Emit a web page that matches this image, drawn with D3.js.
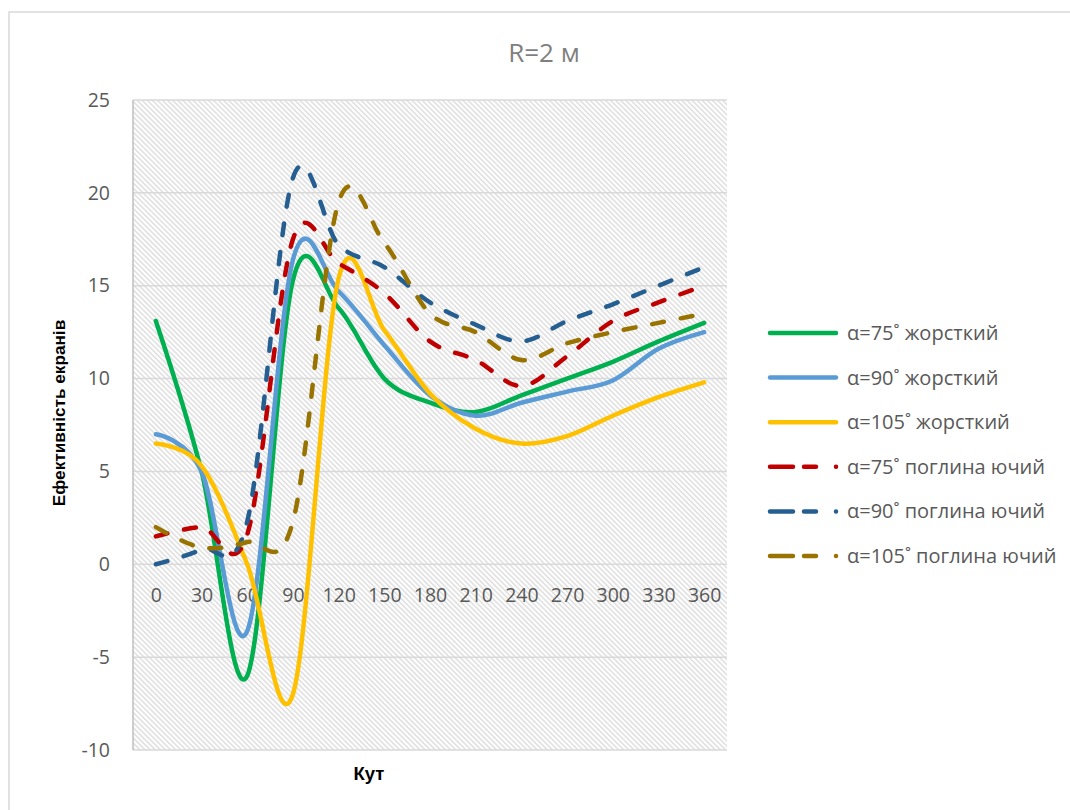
<!DOCTYPE html>
<html>
<head>
<meta charset="utf-8">
<script src="https://cdn.jsdelivr.net/npm/d3@7"></script>
<style>
  body { margin: 0; background: #fff; }
  svg { display: block; }
</style>
</head>
<body>
<svg id="chart" width="1070" height="810"></svg>
<script>
// Angle categories along the x axis
const angleLabels = ["0", "30", "60", "90", "120", "150", "180", "210", "240", "270", "300", "330", "360"];
const yTicks = [-10, -5, 0, 5, 10, 15, 20, 25];

// Screen efficiency per angle, rigid screens
const rigid75  = [13.1, 5.0, -6.0, 15.3, 13.8, 10.0, 8.7, 8.2, 9.1, 10.0, 10.9, 12.0, 13.0];
const rigid90  = [7.0, 5.0, -3.6, 16.4, 14.7, 11.8, 9.1, 8.0, 8.7, 9.3, 9.9, 11.6, 12.5];
const rigid105 = [6.5, 5.3, 0.0, -7.0, 15.4, 12.6, 9.2, 7.3, 6.5, 6.9, 8.0, 9.0, 9.8];
// Screen efficiency per angle, absorbing screens
const absorb75  = [1.5, 2.0, 1.6, 17.5, 16.2, 14.6, 12.0, 11.0, 9.6, 11.2, 13.1, 14.1, 15.0];
const absorb90  = [0.0, 0.8, 2.3, 20.8, 17.2, 16.0, 14.1, 12.9, 12.0, 13.1, 14.0, 15.0, 16.0];
const absorb105 = [2.0, 0.9, 1.2, 2.3, 19.5, 17.3, 13.5, 12.5, 11.0, 11.9, 12.5, 13.0, 13.5];

const seriesNames = [
  "α=75˚ жорсткий", "α=90˚ жорсткий", "α=105˚ жорсткий",
  "α=75˚ поглина ючий", "α=90˚ поглина ючий", "α=105˚ поглина ючий"
];
const seriesValues = [rigid75, rigid90, rigid105, absorb75, absorb90, absorb105];
const seriesColors = ["#00B050", "#5B9BD5", "#FFC000", "#C00000", "#255E91", "#997300"];
const seriesDashed = [false, false, false, true, true, true];

const series = seriesNames.map((name, i) => ({
  name, values: seriesValues[i], color: seriesColors[i], dashed: seriesDashed[i]
}));

const svg = d3.select("#chart");
const plot = { left: 133, right: 727, top: 100, bottom: 750 };
const textGrey = "#595959";
const tickFont = "'Open Sans', 'Noto Sans', sans-serif";

// Chart frame
svg.append("rect")
  .attr("x", 9).attr("y", 12).attr("width", 1100).attr("height", 850)
  .attr("fill", "#fff").attr("stroke", "#d9d9d9").attr("stroke-width", 1.5);

// Diagonal hatch for the plot area
const defs = svg.append("defs");
const pat = defs.append("pattern")
  .attr("id", "hatch").attr("patternUnits", "userSpaceOnUse")
  .attr("width", 3.6).attr("height", 3.6)
  .attr("patternTransform", "rotate(-45)");
pat.append("rect").attr("width", 3.6).attr("height", 3.6).attr("fill", "#ffffff");
pat.append("rect").attr("width", 1.5).attr("height", 3.6).attr("fill", "#dedede");

const x = d3.scalePoint().domain(angleLabels).range([plot.left, plot.right]).padding(0.5);
const y = d3.scaleLinear().domain([-10, 25]).range([plot.bottom, plot.top]);

svg.append("rect")
  .attr("x", plot.left).attr("y", plot.top)
  .attr("width", plot.right - plot.left).attr("height", plot.bottom - plot.top)
  .attr("fill", "url(#hatch)");

// Horizontal gridlines
svg.append("g").selectAll("line").data(yTicks).join("line")
  .attr("x1", plot.left).attr("x2", plot.right)
  .attr("y1", d => y(d)).attr("y2", d => y(d))
  .attr("stroke", "#d9d9d9").attr("stroke-width", 1.5);

// Left axis line
svg.append("line")
  .attr("x1", plot.left).attr("x2", plot.left)
  .attr("y1", plot.top).attr("y2", plot.bottom)
  .attr("stroke", "#bfbfbf").attr("stroke-width", 1.5);

// Y axis labels (plain hyphen for negatives)
const yAxis = svg.append("g")
  .attr("transform", `translate(${plot.left},0)`)
  .call(d3.axisLeft(y).tickValues(yTicks).tickFormat(d => String(d)).tickSize(0).tickPadding(23));
yAxis.select(".domain").remove();
yAxis.selectAll("text")
  .attr("fill", textGrey).style("font-family", tickFont).style("font-size", "19.5px");

// X axis labels sit just under the zero line
const xAxis = svg.append("g")
  .attr("transform", `translate(0,${y(0)})`)
  .call(d3.axisBottom(x).tickSize(0).tickPadding(24));
xAxis.select(".domain").remove();
xAxis.selectAll("text")
  .attr("fill", textGrey).style("font-family", tickFont).style("font-size", "19.5px");

// Series curves
const line = d3.line()
  .x((d, i) => x(angleLabels[i]))
  .y(d => y(d))
  .curve(d3.curveCardinal.tension(0));

svg.append("g").selectAll("path").data(series).join("path")
  .attr("d", d => line(d.values))
  .attr("fill", "none")
  .attr("stroke", d => d.color)
  .attr("stroke-width", 4.5)
  .attr("stroke-linecap", "round")
  .attr("stroke-linejoin", "round")
  .attr("stroke-dasharray", d => d.dashed ? "12 17" : null);

// Title
svg.append("text")
  .attr("x", 544).attr("y", 62)
  .attr("text-anchor", "middle")
  .attr("fill", "#7f7f7f")
  .style("font-family", tickFont).style("font-size", "26px")
  .text("R=2 м");

// Axis titles
svg.append("text")
  .attr("x", 369).attr("y", 780)
  .attr("text-anchor", "middle")
  .attr("fill", "#000")
  .style("font-family", "'Liberation Sans', Arial, sans-serif")
  .style("font-weight", "bold").style("font-size", "18.5px")
  .text("Кут");

svg.append("text")
  .attr("transform", "translate(65,413) rotate(-90)")
  .attr("text-anchor", "middle")
  .attr("fill", "#000")
  .style("font-family", "'Liberation Sans', Arial, sans-serif")
  .style("font-weight", "bold").style("font-size", "17.2px")
  .text("Ефективність екранів");

// Legend
const legendY = d3.scalePoint().domain(seriesNames).range([333, 556]);
const legend = svg.append("g").selectAll("g").data(series).join("g")
  .attr("transform", d => `translate(0,${legendY(d.name)})`);

legend.append("line")
  .attr("x1", 770).attr("x2", d => d.dashed ? 842 : 836)
  .attr("y1", 0).attr("y2", 0)
  .attr("stroke", d => d.color)
  .attr("stroke-width", 4.5)
  .attr("stroke-linecap", "round")
  .attr("stroke-dasharray", d => d.dashed ? "23 11 12 20 0.01 100" : null);

legend.append("text")
  .attr("x", 847).attr("y", 0).attr("dy", "0.35em")
  .attr("fill", textGrey)
  .style("font-family", tickFont).style("font-size", "20px")
  .text(d => d.name);
</script>
</body>
</html>
